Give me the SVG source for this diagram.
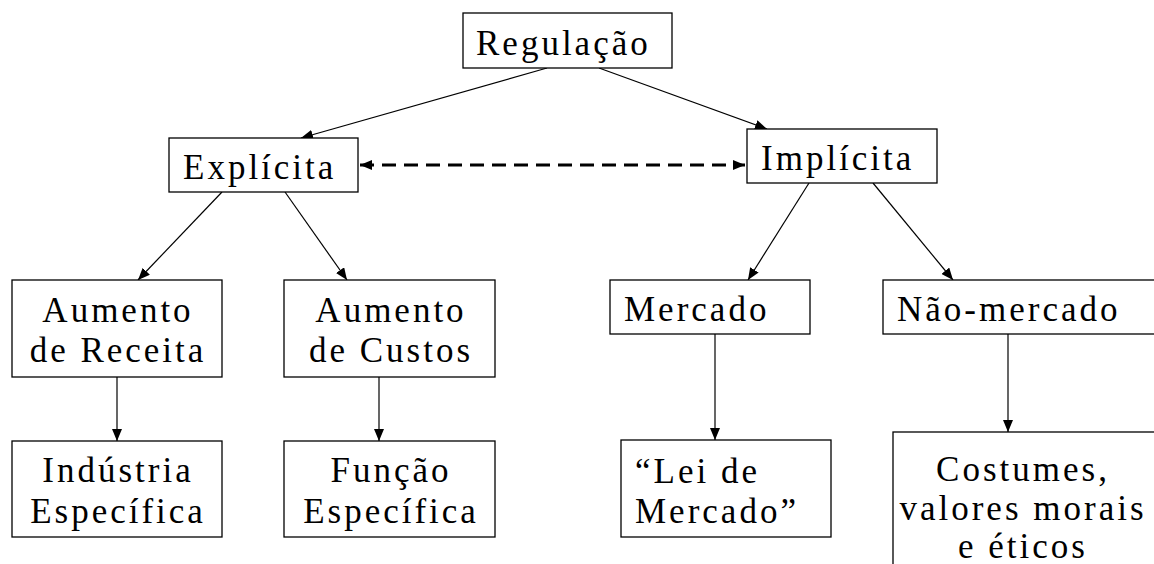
<svg xmlns="http://www.w3.org/2000/svg" width="1154" height="564" viewBox="0 0 1154 564">
<defs>
<marker id="ah" viewBox="0 0 12 10" refX="12" refY="5" markerWidth="12" markerHeight="10" markerUnits="userSpaceOnUse" orient="auto-start-reverse">
<path d="M0,0 L12,5 L0,10 Z" fill="#000"/>
</marker>
<style>
.box{fill:#fff;stroke:#000;stroke-width:1.3}
text{font-family:"Liberation Serif","Times New Roman",serif;font-size:35px;letter-spacing:3px;fill:#000}
.c{text-anchor:middle}
.ln{stroke:#000;stroke-width:1.2;fill:none;marker-end:url(#ah)}
.dash{stroke:#000;stroke-width:3;fill:none;stroke-dasharray:14 8;marker-start:url(#ah);marker-end:url(#ah)}
</style>
</defs>
<rect width="1154" height="564" fill="#fff"/>
<g id="connectors">
<line class="ln" x1="547" y1="68" x2="301" y2="138"/>
<line class="ln" x1="599" y1="68" x2="767" y2="129"/>
<line class="dash" x1="360" y1="165" x2="745" y2="165"/>
<line class="ln" x1="222" y1="192" x2="138" y2="280"/>
<line class="ln" x1="285" y1="192" x2="347" y2="280"/>
<line class="ln" x1="809" y1="183" x2="748" y2="280"/>
<line class="ln" x1="873" y1="183" x2="953" y2="280"/>
<line class="ln" x1="117" y1="377" x2="117" y2="441"/>
<line class="ln" x1="379" y1="377" x2="379" y2="441"/>
<line class="ln" x1="715" y1="334" x2="715" y2="440"/>
<line class="ln" x1="1008" y1="334" x2="1008" y2="432"/>
</g>
<g id="regulacao"><rect class="box" x="463" y="13" width="209" height="55"/><text x="476" y="55">Regulação</text></g>
<g id="explicita"><rect class="box" x="169" y="138" width="189" height="54"/><text x="183" y="179">Explícita</text></g>
<g id="implicita"><rect class="box" x="747" y="129" width="190" height="54"/><text x="761" y="170">Implícita</text></g>
<g id="aumento-receita"><rect class="box" x="12" y="280" width="210" height="97"/><text class="c" x="118" y="322">Aumento</text><text class="c" x="118" y="362">de Receita</text></g>
<g id="aumento-custos"><rect class="box" x="284" y="280" width="211" height="97"/><text class="c" x="391" y="322">Aumento</text><text class="c" x="391" y="362">de Custos</text></g>
<g id="industria"><rect class="box" x="12" y="441" width="210" height="96"/><text class="c" x="118" y="482">Indústria</text><text class="c" x="118" y="523">Específica</text></g>
<g id="funcao"><rect class="box" x="284" y="441" width="211" height="96"/><text class="c" x="391" y="482">Função</text><text class="c" x="391" y="523">Específica</text></g>
<g id="mercado"><rect class="box" x="610" y="280" width="200" height="54"/><text x="624" y="321">Mercado</text></g>
<g id="nao-mercado"><rect class="box" x="883" y="280" width="300" height="54"/><text x="897" y="321">Não-mercado</text></g>
<g id="lei-mercado"><rect class="box" x="621" y="440" width="210" height="97"/><text x="635" y="483">“Lei de</text><text x="635" y="523">Mercado”</text></g>
<g id="costumes"><rect class="box" x="893" y="432" width="290" height="160"/><text class="c" x="1023" y="481">Costumes,</text><text class="c" x="1023" y="520">valores morais</text><text class="c" x="1023" y="558">e éticos</text></g>
</svg>
